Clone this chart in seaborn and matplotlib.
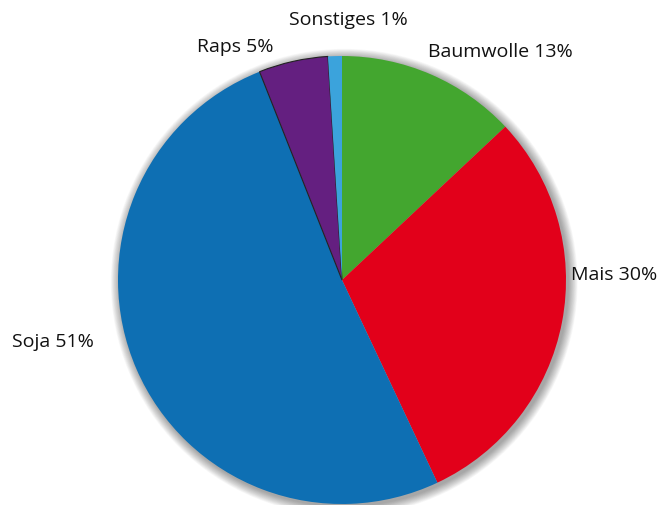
import matplotlib
matplotlib.use("Agg")
import matplotlib.pyplot as plt
from matplotlib.patches import Circle
import seaborn as sns

categories = ["Baumwolle", "Mais", "Soja", "Raps", "Sonstiges"]
values = [13, 30, 51, 5, 1]
colors = ["#43a62f", "#e2001a", "#0e6fb3", "#641f80", "#3ba3dc"]
label_pos = [(0.705, 1.018), (1.215, 0.022), (-1.29, -0.277), (-0.478, 1.04), (0.027, 1.16)]

sns.set_theme(style="white")
plt.rcParams['font.family'] = ['Open Sans', 'DejaVu Sans']

fig = plt.figure(figsize=(6.63, 5.05), dpi=100)
cx, cy = 342 / 663, (505 - 280) / 505
rw, rh = 224 / 663, 224 / 505
ax = fig.add_axes([cx - rw, cy - rh, 2 * rw, 2 * rh])

# soft shadow behind pie
for i in range(14):
    r = 1.0 + 0.003 * (i + 1)
    ax.add_patch(Circle((0.01, -0.01), r, color="black", alpha=0.028,
                        linewidth=0, zorder=0, clip_on=False))

labels = [f"{c} {v}%" for c, v in zip(categories, values)]
wedges, texts = ax.pie(values, colors=colors, startangle=90, counterclock=False,
                       labels=labels, radius=1.0,
                       wedgeprops=dict(linewidth=0, zorder=2),
                       textprops=dict(fontsize=14, color="#111111"))
for t, p in zip(texts, label_pos):
    t.set_position(p)
    t.set_ha("center")
    t.set_va("center")
# thin dark outline on Raps wedge
wedges[3].set_edgecolor("#222222")
wedges[3].set_linewidth(0.8)
ax.set_xlim(-1, 1)
ax.set_ylim(-1, 1)
ax.set_aspect("auto")
ax.axis("off")
fig.savefig("out.png", dpi=100)
